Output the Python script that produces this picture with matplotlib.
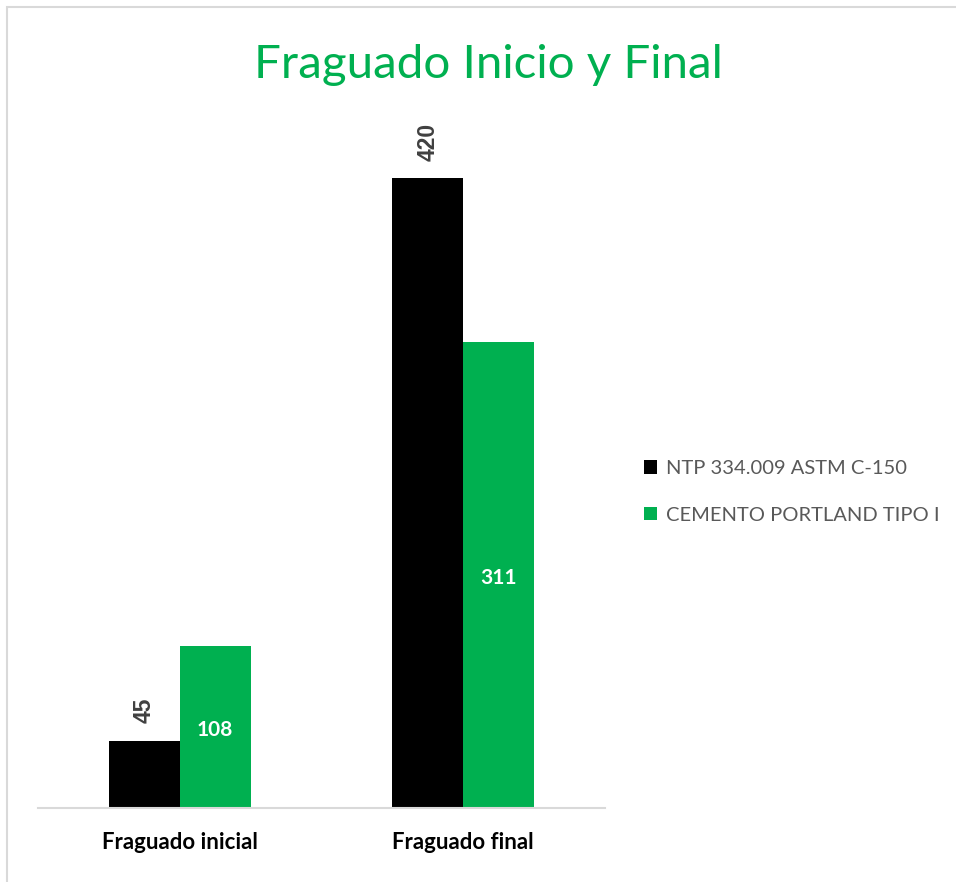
import matplotlib
matplotlib.use("Agg")
import matplotlib.pyplot as plt
from matplotlib.patches import Rectangle, Patch
import numpy as np

categories = ["Fraguado inicial", "Fraguado final"]
series_names = ["NTP 334.009 ASTM C-150", "CEMENTO PORTLAND TIPO I"]
ntp_values = [45, 420]
cemento_values = [108, 311]

BLACK = "#000000"
GREEN = "#00B050"

W, H = 956, 882
fig = plt.figure(figsize=(W / 100, H / 100), dpi=100)
fig.patch.set_facecolor("white")

# chart area border
fig.patches.append(Rectangle((7 / W, -0.1), 1.2, 1 - 7 / H + 0.1, transform=fig.transFigure,
                             fill=False, edgecolor="#D9D9D9", linewidth=1.5))

left, right, bottom_px, top_px = 38, 605, 808, 110
ax = fig.add_axes([left / W, (H - bottom_px) / H, (right - left) / W, (bottom_px - top_px) / H])
ax.set_ylim(0, (bottom_px - top_px) / 1.5)
ax.set_xlim(-0.5, 1.5)

x = np.arange(len(categories))
bw = 0.25
b1 = ax.bar(x - bw / 2, ntp_values, bw, color=BLACK, label=series_names[0])
b2 = ax.bar(x + bw / 2, cemento_values, bw, color=GREEN, label=series_names[1])

for rect, v in zip(b1, ntp_values):
    ax.annotate(str(v), (rect.get_x() + rect.get_width() / 2, v), xytext=(0, 12.5),
                textcoords="offset points", rotation=90, ha="center", va="bottom",
                fontsize=16.5, fontweight="bold", color="#404040", family="Liberation Sans")
for rect, v in zip(b2, cemento_values):
    ax.annotate(str(v), (rect.get_x() + rect.get_width() / 2, v / 2), xytext=(0, -2),
                textcoords="offset points", ha="center", va="center",
                fontsize=15, fontweight="bold", color="white", family="Lato")

for s in ["top", "left", "right"]:
    ax.spines[s].set_visible(False)
ax.spines["bottom"].set_color("#D9D9D9")
ax.spines["bottom"].set_linewidth(1.5)
ax.set_yticks([])
ax.set_xticks(x)
ax.set_xticklabels(categories, fontsize=16, fontweight="bold", family="Lato", color="black")
ax.tick_params(axis="x", length=0, pad=17)

fig.text(488 / W, 1 - 65 / H, "Fraguado Inicio y Final", ha="center", va="center",
         fontsize=34.2, color=GREEN, family="Lato")

handles = [Patch(facecolor=BLACK), Patch(facecolor=GREEN)]
leg = fig.legend(handles, series_names, loc="center left", bbox_to_anchor=(636 / W, 1 - 492 / H),
                 frameon=False, prop={"family": "Lato", "size": 14.5}, handlelength=0.65,
                 handleheight=0.65, handletextpad=0.45, labelspacing=1.47, borderaxespad=0)
for t in leg.get_texts():
    t.set_color("#595959")

fig.savefig("out.png", dpi=100, facecolor="white")
